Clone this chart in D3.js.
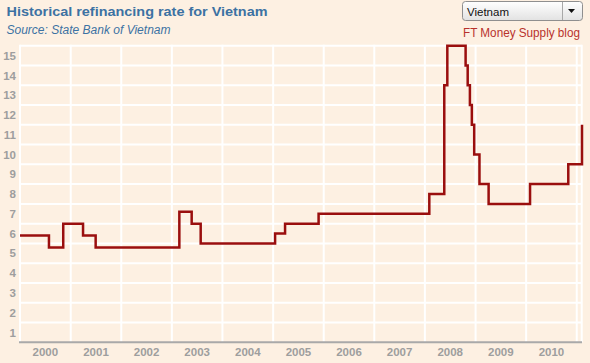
<!DOCTYPE html>
<html>
<head>
<meta charset="utf-8">
<script src="https://cdn.jsdelivr.net/npm/d3@7"></script>
<style>
  html, body { margin: 0; padding: 0; background: #FDF0E2; }
  svg { display: block; font-family: "Liberation Sans", Arial, sans-serif; }
</style>
</head>
<body>
<svg id="chart" width="590" height="363"></svg>
<script>
// ---- data ----
const changeDates = [
  "2000-01-01", "2000-07-28", "2000-11-08", "2001-03-31", "2001-06-30",
  "2003-02-24", "2003-05-24", "2003-07-28", "2005-01-15", "2005-03-28",
  "2005-11-25", "2008-02-02", "2008-05-20", "2008-06-11", "2008-10-21",
  "2008-11-05", "2008-11-21", "2008-12-05", "2008-12-22", "2009-01-29",
  "2009-04-05", "2010-01-29", "2010-11-01", "2011-02-08"
];
const rates = [
  5.4, 4.8, 6.0, 5.4, 4.8,
  6.6, 6.0, 5.0, 5.5, 6.0,
  6.5, 7.5, 13, 15, 14,
  13, 12, 11, 9.5, 8,
  7, 8, 9, 11
];
const yearLabels = ["2000","2001","2002","2003","2004","2005","2006","2007","2008","2009","2010"];
const yTickValues = [1,2,3,4,5,6,7,8,9,10,11,12,13,14,15];
const titleText = "Historical refinancing rate for Vietnam";
const sourceText = "Source: State Bank of Vietnam";
const creditText = "FT Money Supply blog";
const dropdownText = "Vietnam";

(function () {
const svg = d3.select("#chart");
const parse = d3.timeParse("%Y-%m-%d");
const data = changeDates.map((d, i) => ({ date: parse(d), value: rates[i] }));

const pL = 20, pR = 582, pT = 45.7, pB = 342.3;
const x = d3.scaleTime()
  .domain([parse("2000-01-01"), parse("2011-02-08")])
  .range([pL, pR]);
const y = d3.scaleLinear().domain([0, 15]).range([pB, pT]);

svg.append("rect").attr("x", 0).attr("y", 0).attr("width", 590).attr("height", 363)
  .attr("fill", "#FDF0E2");

// horizontal gridlines
const grid = svg.append("g");
grid.selectAll("line.h").data(yTickValues).join("line")
  .attr("class", "h")
  .attr("x1", pL).attr("x2", pR - 0.3)
  .attr("y1", d => y(d)).attr("y2", d => y(d))
  .attr("stroke", "#fff").attr("stroke-width", 2);

// vertical gridlines at year starts
const yearStarts = yearLabels.map(s => parse(s + "-01-01")).concat([parse("2011-01-01")]);
grid.selectAll("line.v").data(yearStarts).join("line")
  .attr("class", "v")
  .attr("x1", d => x(d)).attr("x2", d => x(d))
  .attr("y1", pT - 1).attr("y2", pB)
  .attr("stroke", "#fff").attr("stroke-width", 2);
grid.append("line")
  .attr("x1", pR - 0.3).attr("x2", pR - 0.3)
  .attr("y1", pT - 1).attr("y2", pB)
  .attr("stroke", "#fff").attr("stroke-width", 2);

// x axis line
svg.append("line")
  .attr("x1", pL - 1).attr("x2", pR)
  .attr("y1", pB).attr("y2", pB)
  .attr("stroke", "#A9A9A9").attr("stroke-width", 2);

// y labels (placed in the band below each gridline)
svg.append("g").selectAll("text").data(yTickValues).join("text")
  .attr("x", 16).attr("y", d => y(d - 0.5))
  .attr("dy", "0.36em")
  .attr("text-anchor", "end")
  .attr("font-size", 11.5).attr("font-weight", "bold")
  .attr("fill", "#9E9E9E")
  .text(d => d);

// x labels centred in each year
svg.append("g").selectAll("text").data(yearLabels).join("text")
  .attr("x", d => (x(parse(d + "-01-01")) + x(parse((+d + 1) + "-01-01"))) / 2)
  .attr("y", 356)
  .attr("text-anchor", "middle")
  .attr("font-size", 11.5).attr("font-weight", "bold")
  .attr("fill", "#9E9E9E")
  .text(d => d);

// the step line
const line = d3.line()
  .x(d => x(d.date)).y(d => y(d.value))
  .curve(d3.curveStepAfter);
svg.append("path").datum(data)
  .attr("d", line)
  .attr("fill", "none")
  .attr("stroke", "#9A0E0E")
  .attr("stroke-width", 2.5)
  .attr("stroke-linejoin", "miter")
  .attr("stroke-linecap", "butt");

// title & source
svg.append("text").attr("x", 6.5).attr("y", 15.5)
  .attr("font-size", 13.2).attr("font-weight", "bold")
  .attr("textLength", 261).attr("lengthAdjust", "spacingAndGlyphs")
  .attr("fill", "#3C72A3").text(titleText);
svg.append("text").attr("x", 6.5).attr("y", 34)
  .attr("font-size", 12).attr("font-style", "italic")
  .attr("textLength", 164).attr("lengthAdjust", "spacingAndGlyphs")
  .attr("fill", "#3C72A3").text(sourceText);

// credit
svg.append("text").attr("x", 580).attr("y", 37)
  .attr("text-anchor", "end")
  .attr("font-size", 12).attr("textLength", 117).attr("lengthAdjust", "spacingAndGlyphs")
  .attr("fill", "#B8322C").text(creditText);

// dropdown
const defs = svg.append("defs");
const grad = defs.append("linearGradient").attr("id", "dd").attr("x1", 0).attr("x2", 0).attr("y1", 0).attr("y2", 1);
grad.append("stop").attr("offset", "0%").attr("stop-color", "#FFFFFF");
grad.append("stop").attr("offset", "100%").attr("stop-color", "#E2E2E2");
const dd = svg.append("g");
dd.append("rect").attr("x", 462.5).attr("y", 1.5).attr("width", 120).attr("height", 19)
  .attr("rx", 3).attr("fill", "url(#dd)").attr("stroke", "#8F8F8F");
dd.append("line").attr("x1", 562.5).attr("x2", 562.5).attr("y1", 2).attr("y2", 20)
  .attr("stroke", "#A8A8A8");
dd.append("path").attr("d", "M568,9 L575,9 L571.5,13 Z").attr("fill", "#111");
dd.append("text").attr("x", 467).attr("y", 15.5).attr("font-size", 11.5)
  .attr("fill", "#111").text(dropdownText);
})();
</script>
</body>
</html>
